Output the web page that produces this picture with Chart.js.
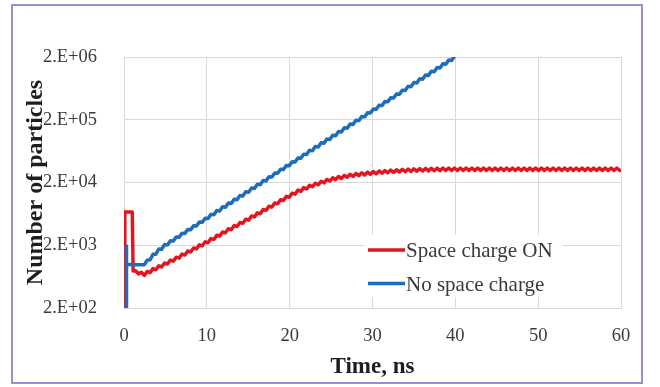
<!DOCTYPE html>
<html>
<head>
<meta charset="utf-8">
<script src="https://cdn.jsdelivr.net/npm/chart.js@4"></script>
<style>
  html, body { margin: 0; padding: 0; background: #ffffff; overflow: hidden; }
  #wrap { position: relative; width: 660px; height: 387px; }
  #frame { position: absolute; left: 11px; top: 4px; width: 628px; height: 376px; border: 2px solid #a28ad1; box-sizing: content-box; pointer-events: none; }
  canvas { position: absolute; left: 0; top: 0; }
</style>
</head>
<body>
<div id="wrap">
  <canvas id="chart" width="660" height="387"></canvas>
  <div id="frame"></div>
</div>
<script>
// Simulated particle count vs time, with and without space charge.

// Opening of each run (injection pulse), ns / particles
const onLeadTime = [0.1, 0.1, 1.0, 1.1];
const onLeadCount = [200, 6800, 6800, 780];
const offLeadTime = [0.25, 0.25, 0.35];
const offLeadCount = [200, 1950, 1000];

// Common sampling grid, ns
const timeNs = [
  1.4, 1.75, 2.1, 2.45, 2.8, 3.15, 3.5, 3.85, 4.2, 4.55,
  4.9, 5.25, 5.6, 5.95, 6.3, 6.65, 7, 7.35, 7.7, 8.05,
  8.4, 8.75, 9.1, 9.45, 9.8, 10.15, 10.5, 10.85, 11.2, 11.55,
  11.9, 12.25, 12.6, 12.95, 13.3, 13.65, 14, 14.35, 14.7, 15.05,
  15.4, 15.75, 16.1, 16.45, 16.8, 17.15, 17.5, 17.85, 18.2, 18.55,
  18.9, 19.25, 19.6, 19.95, 20.3, 20.65, 21, 21.35, 21.7, 22.05,
  22.4, 22.75, 23.1, 23.45, 23.8, 24.15, 24.5, 24.85, 25.2, 25.55,
  25.9, 26.25, 26.6, 26.95, 27.3, 27.65, 28, 28.35, 28.7, 29.05,
  29.4, 29.75, 30.1, 30.45, 30.8, 31.15, 31.5, 31.85, 32.2, 32.55,
  32.9, 33.25, 33.6, 33.95, 34.3, 34.65, 35, 35.35, 35.7, 36.05,
  36.4, 36.75, 37.1, 37.45, 37.8, 38.15, 38.5, 38.85, 39.2, 39.55,
  39.9, 40.25, 40.6, 40.95, 41.3, 41.65, 42, 42.35, 42.7, 43.05,
  43.4, 43.75, 44.1, 44.45, 44.8, 45.15, 45.5, 45.85, 46.2, 46.55,
  46.9, 47.25, 47.6, 47.95, 48.3, 48.65, 49, 49.35, 49.7, 50.05,
  50.4, 50.75, 51.1, 51.45, 51.8, 52.15, 52.5, 52.85, 53.2, 53.55,
  53.9, 54.25, 54.6, 54.95, 55.3, 55.65, 56, 56.35, 56.7, 57.05,
  57.4, 57.75, 58.1, 58.45, 58.8, 59.15, 59.5, 59.85, 60
];

// Space charge ON: particles on the grid above
const spaceChargeOn = [
  785, 700, 741, 661, 764, 733, 848, 812, 940, 903,
  1044, 1002, 1159, 1114, 1292, 1247, 1446, 1396, 1618, 1563,
  1811, 1747, 2028, 1956, 2270, 2192, 2556, 2477, 2884, 2791,
  3256, 3151, 3661, 3539, 4112, 3979, 4624, 4466, 5201, 5022,
  5849, 5648, 6562, 6367, 7413, 7176, 8376, 8107, 9441, 9138,
  10650, 10320, 12030, 11630, 13530, 13040, 15140, 14420, 16550, 15760,
  17990, 17080, 19480, 18400, 20940, 19760, 22390, 21080, 23770, 22200,
  24940, 23220, 26000, 24210, 26980, 25000, 27860, 25700, 28540, 26360,
  29240, 26970, 29920, 27540, 30550, 28110, 31050, 28540, 31560, 28970,
  31990, 29370, 32370, 29710, 32730, 29980, 33050, 30260, 33310, 30470,
  33500, 30620, 33660, 30750, 33810, 30890, 34040, 31040, 34040, 31040,
  34040, 31040, 34040, 31040, 34040, 31040, 34040, 31040, 34040, 31040,
  34040, 31040, 34040, 31040, 34040, 31040, 34040, 31040, 34040, 31040,
  34040, 31040, 34040, 31040, 34040, 31040, 34040, 31040, 34040, 31040,
  34040, 31040, 34040, 31040, 34040, 31040, 34040, 31040, 34040, 31040,
  34040, 31040, 34040, 31040, 34040, 31040, 34040, 31040, 34040, 31040,
  34040, 31040, 34040, 31040, 34040, 31040, 34040, 31040, 32500
];

// No space charge: particles on the same grid (run ends at 39.9 ns)
const noSpaceCharge = [
  980, 980, 980, 980, 1151, 1172, 1433, 1442, 1742, 1726,
  2056, 2027, 2361, 2327, 2710, 2672, 3112, 3068, 3573, 3523,
  4103, 4045, 4710, 4644, 5408, 5332, 6210, 6122, 7129, 7029,
  8185, 8070, 9398, 9265, 10790, 10640, 12390, 12220, 14230, 14020,
  16340, 16100, 18750, 18490, 21530, 21230, 24720, 24370, 28380, 27980,
  32590, 32130, 37420, 36890, 42950, 42350, 49320, 48630, 56630, 55840,
  65020, 64100, 74650, 73600, 85710, 84500, 98410, 97020, 113000, 111400,
  129700, 127900, 149000, 146800, 171100, 168600, 196300, 193600, 225400, 222200,
  258900, 255200, 297200, 293000, 341200, 336400, 391800, 386300, 449800, 443500,
  516400, 509200, 593000, 584600, 680800, 671200, 781700, 770700, 897500, 884800,
  1030000, 1016000, 1183000, 1166000, 1359000, 1339000, 1560000, 1538000, 1791000, 1766000,
  2056000
];

const seriesNames = ['Space charge ON', 'No space charge'];
const xTickValues = [0, 10, 20, 30, 40, 50, 60];
const yTickValues = [200, 2000, 20000, 200000, 2000000];
const yTickLabels = ['2.E+02', '2.E+03', '2.E+04', '2.E+05', '2.E+06'];

const RED = '#e3161f';
const BLUE = '#1d6db8';
const GRID = '#d9d9d9';
const SERIF = '"Liberation Serif", "Times New Roman", serif';

function toPoints(times, counts) {
  return counts.map((c, i) => ({ x: times[i], y: c }));
}

const onPoints = toPoints(onLeadTime, onLeadCount).concat(toPoints(timeNs, spaceChargeOn));
const offPoints = toPoints(offLeadTime, offLeadCount).concat(toPoints(timeNs, noSpaceCharge));

// Legend drawn inside the plot, lower right, on a white box
const insideLegend = {
  id: 'insideLegend',
  afterDraw(chart) {
    const ctx = chart.ctx;
    ctx.save();
    ctx.fillStyle = '#ffffff';
    ctx.fillRect(364, 235, 198, 62);
    chart.data.datasets.forEach((ds, i) => {
      const y = 250 + i * 33.5;
      ctx.strokeStyle = ds.borderColor;
      ctx.lineWidth = 3.5;
      ctx.beginPath();
      ctx.moveTo(368, y);
      ctx.lineTo(405, y);
      ctx.stroke();
      ctx.fillStyle = '#3a3a3a';
      ctx.font = '21px ' + SERIF;
      ctx.textAlign = 'left';
      ctx.textBaseline = 'alphabetic';
      ctx.fillText(ds.label, 406, y + 7);
    });
    ctx.restore();
  }
};

new Chart(document.getElementById('chart'), {
  type: 'line',
  data: {
    datasets: [
      { label: seriesNames[0], data: onPoints, borderColor: RED, backgroundColor: RED,
        borderWidth: 3.5, pointRadius: 0, tension: 0, borderJoinStyle: 'round', order: 1 },
      { label: seriesNames[1], data: offPoints, borderColor: BLUE, backgroundColor: BLUE,
        borderWidth: 3.5, pointRadius: 0, tension: 0, borderJoinStyle: 'round', order: 0 }
    ]
  },
  options: {
    responsive: false,
    animation: false,
    devicePixelRatio: 1,
    layout: { padding: { left: 0, right: 39, top: 57, bottom: 0 } },
    plugins: { legend: { display: false }, tooltip: { enabled: false } },
    scales: {
      x: {
        type: 'linear', min: 0, max: 60,
        afterBuildTicks(s) { s.ticks = xTickValues.map(v => ({ value: v })); },
        afterFit(s) { s.height = 79; },
        grid: { color: GRID, lineWidth: 1, drawTicks: false },
        border: { color: GRID },
        ticks: { color: '#3a3a3a', padding: 17, font: { family: SERIF, size: 18.5 } },
        title: { display: true, text: 'Time, ns', color: '#1e1e1e', padding: { top: 0, bottom: 6 },
                 font: { family: SERIF, size: 23, weight: 'bold' } }
      },
      y: {
        type: 'logarithmic', min: 200, max: 2000000,
        afterBuildTicks(s) { s.ticks = yTickValues.map(v => ({ value: v })); },
        afterFit(s) { s.width = 124; },
        grid: { color: GRID, lineWidth: 1, drawTicks: false },
        border: { color: GRID },
        ticks: { color: '#3a3a3a', padding: 27, autoSkip: false, font: { family: SERIF, size: 18.5 },
                 callback: (v, i) => yTickLabels[i] },
        title: { display: true, text: 'Number of particles', color: '#1e1e1e', padding: { top: 21, bottom: 0 },
                 font: { family: SERIF, size: 24, weight: 'bold' } }
      }
    }
  },
  plugins: [insideLegend]
});
</script>
</body>
</html>
